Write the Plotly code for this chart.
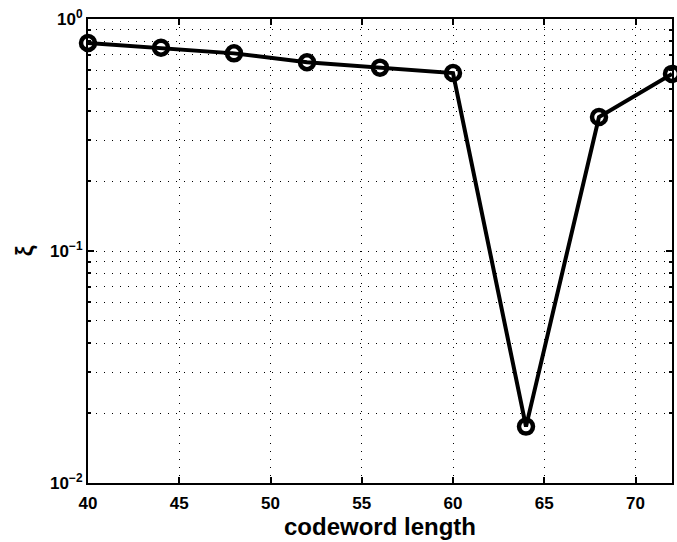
import plotly.graph_objects as go

codeword_length = [40, 44, 48, 52, 56, 60, 64, 68, 72]
xi_values = [0.788, 0.752, 0.711, 0.651, 0.617, 0.585, 0.0175, 0.378, 0.58]

x_ticks = [40, 45, 50, 55, 60, 65, 70]
y_ticks = [0.01, 0.1, 1]
y_tick_text = ["10<sup>\u22122</sup>", "10<sup>\u22121</sup>", "10<sup>0</sup>"]
y_minor = [m * 10 ** e for e in (-2, -1) for m in range(2, 10)]

fig = go.Figure()
fig.add_trace(go.Scatter(
    x=codeword_length, y=xi_values, mode="lines+markers",
    line=dict(color="black", width=4),
    marker=dict(symbol="circle-open", size=14, color="black", line=dict(width=4.5, color="black")),
    cliponaxis=False, showlegend=False,
))

dash = "1px,7px"
fam = "Liberation Sans, Arial, sans-serif"
fig.update_layout(
    width=677, height=542,
    margin=dict(l=88, r=3, t=19, b=59),
    paper_bgcolor="white", plot_bgcolor="white",
    font=dict(family=fam, color="black"),
    xaxis=dict(
        range=[40, 72], tickvals=x_ticks, ticks="inside", ticklen=6, tickwidth=2,
        tickcolor="black", ticklabelstandoff=4,
        showline=True, linecolor="black", linewidth=2, mirror="ticks",
        showgrid=True, gridcolor="black", gridwidth=1, griddash=dash,
        zeroline=False,
        tickfont=dict(size=17, family=fam, weight="bold"),
        title=dict(text="<b>codeword length</b>", font=dict(size=24), standoff=2),
    ),
    yaxis=dict(
        type="log", range=[-2, 0], tickvals=y_ticks, ticktext=y_tick_text,
        ticks="inside", ticklen=6, tickwidth=2, tickcolor="black",
        showline=True, linecolor="black", linewidth=2, mirror="ticks",
        showgrid=True, gridcolor="black", gridwidth=1, griddash=dash,
        zeroline=False,
        tickfont=dict(size=17, family=fam, weight="bold"),
        title=dict(text="<b>\u03be</b>", font=dict(size=24), standoff=10),
        minor=dict(tickvals=y_minor, ticks="inside", ticklen=3, tickcolor="black",
                   showgrid=True, gridcolor="black", gridwidth=1, griddash=dash),
    ),
)

fig.write_html("out.html")
